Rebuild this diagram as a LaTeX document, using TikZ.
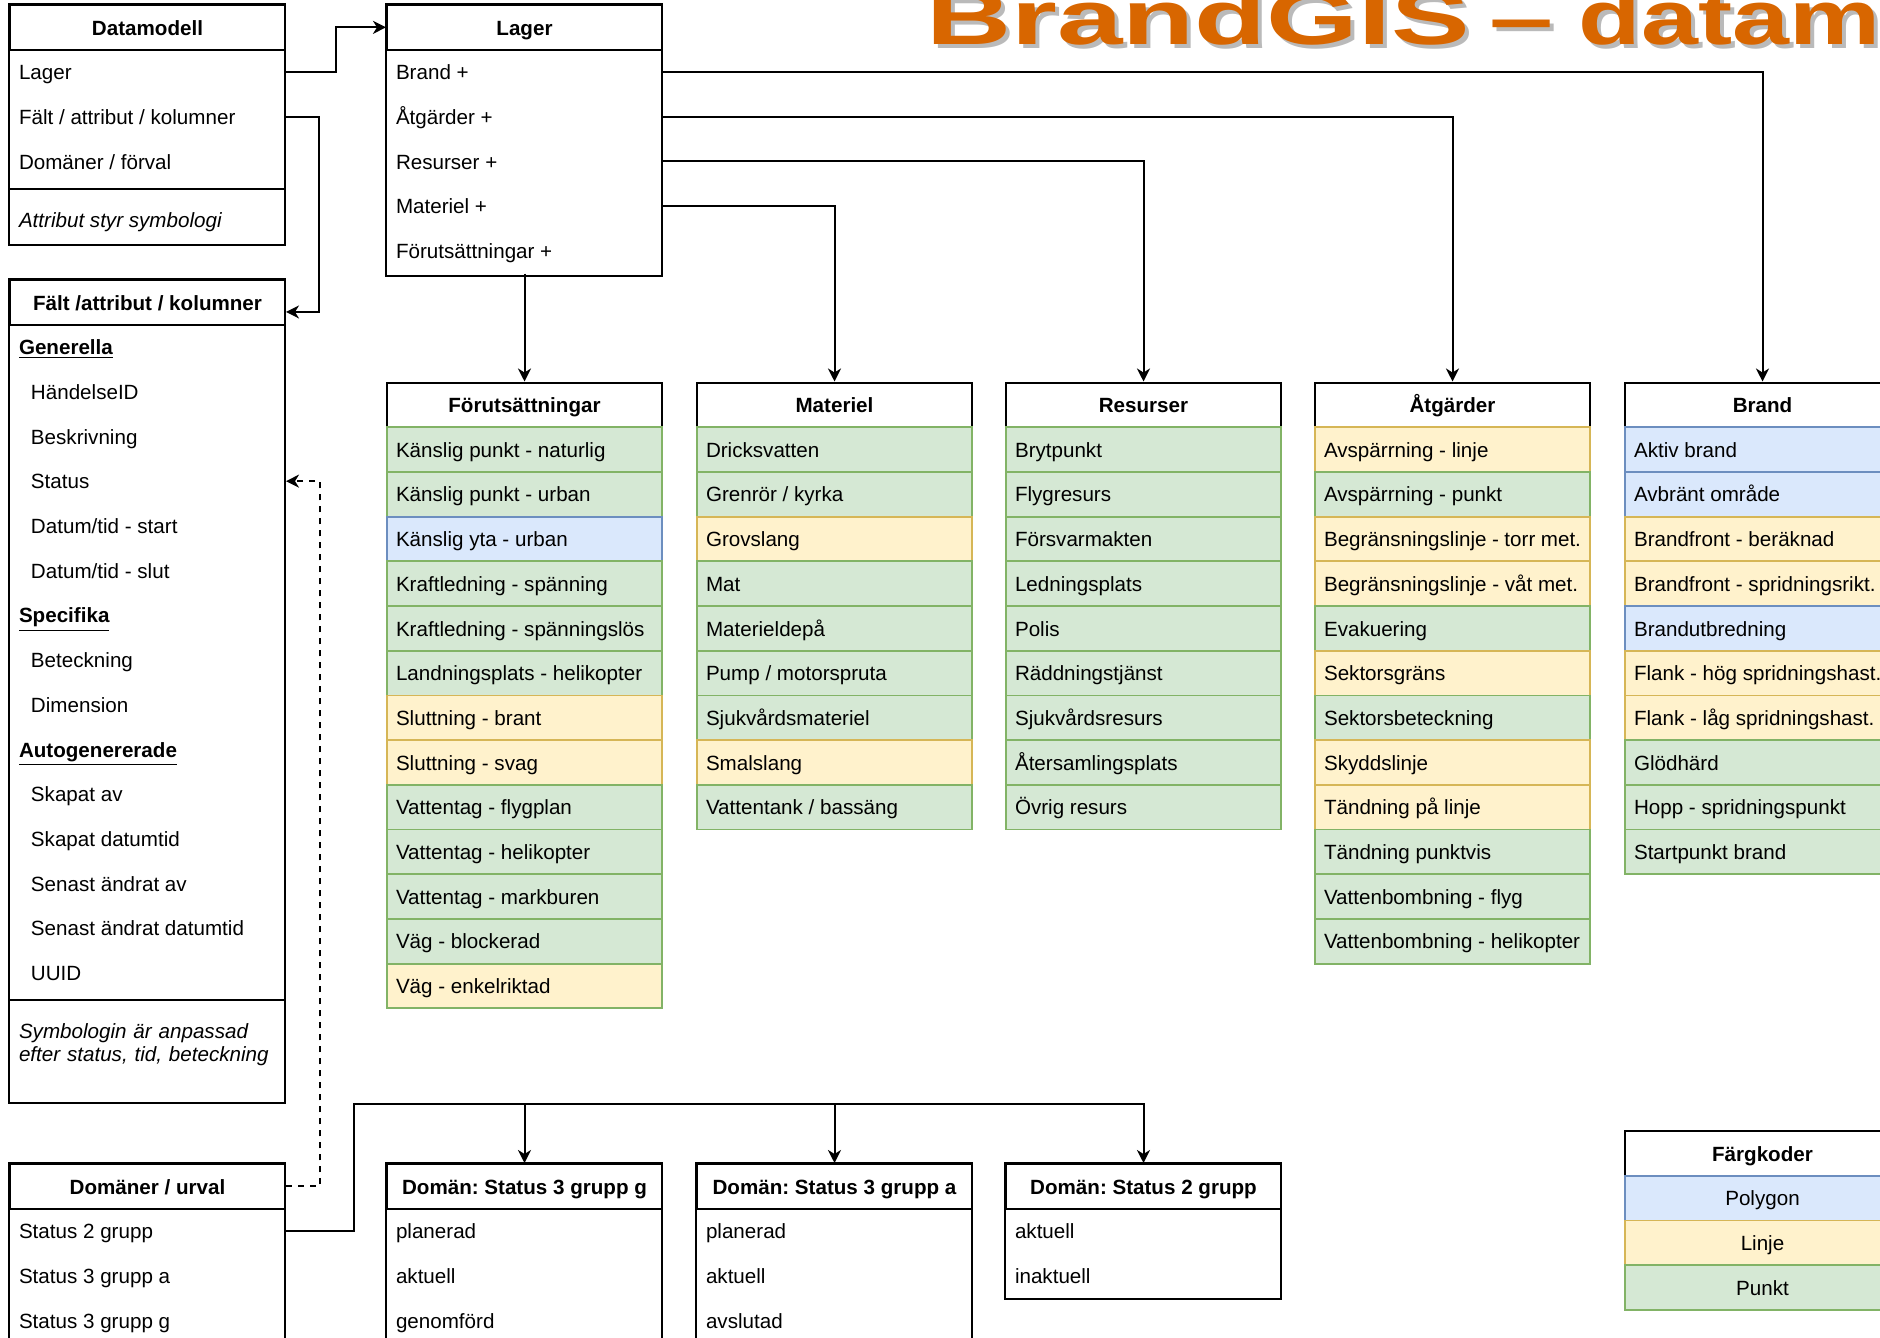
\documentclass[tikz,border=0pt]{standalone}
\usepackage{fontspec}
\setmainfont{Liberation Sans}
\usetikzlibrary{arrows.meta}
\frenchspacing

\definecolor{ytafill}{HTML}{DAE8FC}
\definecolor{ytakant}{HTML}{6C8EBF}
\definecolor{linjefill}{HTML}{FFF2CC}
\definecolor{linjekant}{HTML}{D6B656}
\definecolor{punktfill}{HTML}{D5E8D4}
\definecolor{punktkant}{HTML}{82B366}
\definecolor{rubrik}{HTML}{D86600}

\newcommand\titeltext{\scalebox{1.53}[1]{BrandGIS}\hspace{10pt}\scalebox{1.5}[1]{–}\hspace{12.5pt}\scalebox{1.33}[1]{datamodell}}

\begin{document}
\begin{tikzpicture}[x=0.5pt, y=-0.5pt, >={Stealth[length=6.5pt,width=6.5pt,inset=2pt]},
  font=\fontsize{10.3}{12.4}\selectfont,
  huvud/.style={draw, line width=1pt, fill=white, minimum width=137.5pt, minimum height=22.35pt, inner sep=0pt, text height=8.9pt, text depth=1.2pt, font=\fontsize{10.3}{12.4}\selectfont\bfseries},
  rad/.style={minimum width=137.5pt, minimum height=22.35pt, inner xsep=4.5pt, inner ysep=0pt, text height=8.9pt, text depth=1.2pt, execute at begin node={\hbox to 128.5pt\bgroup}, execute at end node={\hfil\egroup}},
  inskjut/.style={rad, xshift=6pt},
  punkt/.style={rad, draw=punktkant, fill=punktfill, line width=0.9pt},
  linje/.style={rad, draw=linjekant, fill=linjefill, line width=0.9pt},
  yta/.style={rad, draw=ytakant, fill=ytafill, line width=0.9pt},
  ruta/.style={minimum width=137.5pt, minimum height=22.35pt, inner sep=0pt, text height=8.9pt, text depth=1.2pt, line width=0.9pt},
  ram/.style={draw, line width=1pt},
  pil/.style={->, line width=1pt}]
  \useasboundingbox (0,0) rectangle (1880,1338);
  \begin{scope}
    \clip (0,0) rectangle (1880,1338);

    % Titel
    \node[anchor=base west, inner sep=0pt, text=black!45, opacity=0.6, font=\fontsize{38.5}{40}\selectfont\bfseries] (skugga) at (930,49) {\titeltext};
    \node[anchor=base west, inner sep=0pt, text=rubrik, font=\fontsize{38.5}{40}\selectfont\bfseries] (titel) at (926,45) {\titeltext};

    % Datamodell
    \node[huvud] (d0) at (147.5,27.35) {Datamodell};
    \node[rad] (d1) at (147.5,72.05) {Lager};
    \node[rad] (d2) at (147.5,116.75) {Fält / attribut / kolumner};
    \node[rad] (d3) at (147.5,161.45) {Domäner / förval};
    \node[rad, minimum height=28pt, text height=10.3pt, text depth=0pt, font=\fontsize{10.3}{12.4}\selectfont\itshape] (d4) at (147.5,217) {Attribut styr symbologi};
    \draw[ram] (d0.north west) rectangle (d4.south east);
    \draw[ram] (d4.north west) -- (d4.north east);

    % Lager
    \node[huvud] (l0) at (524.5,27.35) {Lager};
    \node[rad] (l1) at (524.5,72.05) {Brand +};
    \node[rad] (l2) at (524.5,116.75) {Åtgärder +};
    \node[rad] (l3) at (524.5,161.45) {Resurser +};
    \node[rad] (l4) at (524.5,206.15) {Materiel +};
    \node[rad] (l5) at (524.5,250.85) {Förutsättningar +};
    \draw[ram] (l0.north west) rectangle ([yshift=-1.4pt]l5.south east);

    % Falt / attribut / kolumner
    \node[huvud] (k0) at (147.5,302.35) {Fält /attribut / kolumner};
    \node[rad] (k1) at (147.5,347.05) {\textbf{\underline{Generella}}};
    \node[inskjut] (k2) at (147.5,391.75) {HändelseID};
    \node[inskjut] (k3) at (147.5,436.45) {Beskrivning};
    \node[inskjut] (k4) at (147.5,481.15) {Status};
    \node[inskjut] (k5) at (147.5,525.85) {Datum/tid - start};
    \node[inskjut] (k6) at (147.5,570.55) {Datum/tid - slut};
    \node[rad] (k7) at (147.5,615.25) {\textbf{\underline{Specifika}}};
    \node[inskjut] (k8) at (147.5,659.95) {Beteckning};
    \node[inskjut] (k9) at (147.5,704.65) {Dimension};
    \node[rad] (k10) at (147.5,749.35) {\textbf{\underline{Autogenererade}}};
    \node[inskjut] (k11) at (147.5,794.05) {Skapat av};
    \node[inskjut] (k12) at (147.5,838.75) {Skapat datumtid};
    \node[inskjut] (k13) at (147.5,883.45) {Senast ändrat av};
    \node[inskjut] (k14) at (147.5,928.15) {Senast ändrat datumtid};
    \node[inskjut] (k15) at (147.5,972.85) {UUID};
    \node[minimum width=137.5pt, minimum height=51.5pt, inner xsep=4.5pt, inner ysep=0pt, text width=128.5pt, align=left, text height=8.3pt, text depth=20.9pt, font=\fontsize{10.3}{11.5}\selectfont\itshape] (k16) at (147.5,1051.5) {Symbologin är anpassad\\efter status, tid, beteckning};
    \draw[ram] (k0.north west) rectangle (k16.south east);
    \draw[ram] (k16.north west) -- (k16.north east);

    % Domaner / urval
    \node[huvud] (u0) at (147.5,1186.35) {Domäner / urval};
    \node[rad] (u1) at (147.5,1231.05) {Status 2 grupp};
    \node[rad] (u2) at (147.5,1275.75) {Status 3 grupp a};
    \node[rad] (u3) at (147.5,1320.45) {Status 3 grupp g};
    \draw[ram] (u0.north west) rectangle (u3.south east);

    % Forutsattningar
    \node[huvud] (f0) at (524.5,404.85) {Förutsättningar};
    \node[punkt] (f1) at (524.5,449.55) {Känslig punkt - naturlig};
    \node[punkt] (f2) at (524.5,494.25) {Känslig punkt - urban};
    \node[yta] (f3) at (524.5,538.95) {Känslig yta - urban};
    \node[punkt] (f4) at (524.5,583.65) {Kraftledning - spänning};
    \node[punkt] (f5) at (524.5,628.35) {Kraftledning - spänningslös};
    \node[punkt] (f6) at (524.5,673.05) {Landningsplats - helikopter};
    \node[linje] (f7) at (524.5,717.75) {Sluttning - brant};
    \node[linje] (f8) at (524.5,762.45) {Sluttning - svag};
    \node[punkt] (f9) at (524.5,807.15) {Vattentag - flygplan};
    \node[punkt] (f10) at (524.5,851.85) {Vattentag - helikopter};
    \node[punkt] (f11) at (524.5,896.55) {Vattentag - markburen};
    \node[punkt] (f12) at (524.5,941.25) {Väg - blockerad};
    \node[linje, draw=punktkant] (f13) at (524.5,985.95) {Väg - enkelriktad};

    % Materiel
    \node[huvud] (m0) at (834.5,404.85) {Materiel};
    \node[punkt] (m1) at (834.5,449.55) {Dricksvatten};
    \node[punkt] (m2) at (834.5,494.25) {Grenrör / kyrka};
    \node[linje] (m3) at (834.5,538.95) {Grovslang};
    \node[punkt] (m4) at (834.5,583.65) {Mat};
    \node[punkt] (m5) at (834.5,628.35) {Materieldepå};
    \node[punkt] (m6) at (834.5,673.05) {Pump / motorspruta};
    \node[punkt] (m7) at (834.5,717.75) {Sjukvårdsmateriel};
    \node[linje] (m8) at (834.5,762.45) {Smalslang};
    \node[punkt] (m9) at (834.5,807.15) {Vattentank / bassäng};

    % Resurser
    \node[huvud] (r0) at (1143.5,404.85) {Resurser};
    \node[punkt] (r1) at (1143.5,449.55) {Brytpunkt};
    \node[punkt] (r2) at (1143.5,494.25) {Flygresurs};
    \node[punkt] (r3) at (1143.5,538.95) {Försvarmakten};
    \node[punkt] (r4) at (1143.5,583.65) {Ledningsplats};
    \node[punkt] (r5) at (1143.5,628.35) {Polis};
    \node[punkt] (r6) at (1143.5,673.05) {Räddningstjänst};
    \node[punkt] (r7) at (1143.5,717.75) {Sjukvårdsresurs};
    \node[punkt] (r8) at (1143.5,762.45) {Återsamlingsplats};
    \node[punkt] (r9) at (1143.5,807.15) {Övrig resurs};

    % Atgarder
    \node[huvud] (a0) at (1452.5,404.85) {Åtgärder};
    \node[linje] (a1) at (1452.5,449.55) {Avspärrning - linje};
    \node[punkt] (a2) at (1452.5,494.25) {Avspärrning - punkt};
    \node[linje] (a3) at (1452.5,538.95) {Begränsningslinje - torr met.};
    \node[linje] (a4) at (1452.5,583.65) {Begränsningslinje - våt met.};
    \node[punkt] (a5) at (1452.5,628.35) {Evakuering};
    \node[linje] (a6) at (1452.5,673.05) {Sektorsgräns};
    \node[punkt] (a7) at (1452.5,717.75) {Sektorsbeteckning};
    \node[linje] (a8) at (1452.5,762.45) {Skyddslinje};
    \node[linje] (a9) at (1452.5,807.15) {Tändning på linje};
    \node[punkt] (a10) at (1452.5,851.85) {Tändning punktvis};
    \node[punkt] (a11) at (1452.5,896.55) {Vattenbombning - flyg};
    \node[punkt] (a12) at (1452.5,941.25) {Vattenbombning - helikopter};

    % Brand
    \node[huvud] (b0) at (1762.5,404.85) {Brand};
    \node[yta] (b1) at (1762.5,449.55) {Aktiv brand};
    \node[yta] (b2) at (1762.5,494.25) {Avbränt område};
    \node[linje] (b3) at (1762.5,538.95) {Brandfront - beräknad};
    \node[linje] (b4) at (1762.5,583.65) {Brandfront - spridningsrikt.};
    \node[yta] (b5) at (1762.5,628.35) {Brandutbredning};
    \node[linje] (b6) at (1762.5,673.05) {Flank - hög spridningshast.};
    \node[linje] (b7) at (1762.5,717.75) {Flank - låg spridningshast.};
    \node[punkt] (b8) at (1762.5,762.45) {Glödhärd};
    \node[punkt] (b9) at (1762.5,807.15) {Hopp - spridningspunkt};
    \node[punkt] (b10) at (1762.5,851.85) {Startpunkt brand};

    % Domaner
    \node[huvud] (p0) at (524.5,1186.35) {Domän: Status 3 grupp g};
    \node[rad] (p1) at (524.5,1231.05) {planerad};
    \node[rad] (p2) at (524.5,1275.75) {aktuell};
    \node[rad] (p3) at (524.5,1320.45) {genomförd};
    \draw[ram] (p0.north west) rectangle (p3.south east);

    \node[huvud] (q0) at (834.5,1186.35) {Domän: Status 3 grupp a};
    \node[rad] (q1) at (834.5,1231.05) {planerad};
    \node[rad] (q2) at (834.5,1275.75) {aktuell};
    \node[rad] (q3) at (834.5,1320.45) {avslutad};
    \draw[ram] (q0.north west) rectangle (q3.south east);

    \node[huvud] (s0) at (1143.5,1186.35) {Domän: Status 2 grupp};
    \node[rad] (s1) at (1143.5,1231.05) {aktuell};
    \node[rad] (s2) at (1143.5,1275.75) {inaktuell};
    \draw[ram] (s0.north west) rectangle (s2.south east);

    % Fargkoder
    \node[huvud] (c0) at (1762.5,1153.35) {Färgkoder};
    \node[ruta, draw=ytakant, fill=ytafill] (c1) at (1762.5,1198.05) {Polygon};
    \node[ruta, draw=linjekant, fill=linjefill] (c2) at (1762.5,1242.75) {Linje};
    \node[ruta, draw=punktkant, fill=punktfill] (c3) at (1762.5,1287.45) {Punkt};

    % Pilar
    \draw[pil] (d1.east) -- ++(51,0) |- (l0.west);
    \draw[pil] (d2.east) -- ++(34,0) |- ([yshift=-4.8pt]k0.east);
    \draw[pil, dashed] (u0.east) -- ++(34,0) |- (k4.east -| k0.east);

    \draw[pil] (l5.south) -- (f0.north);
    \draw[pil] (l4.east) -| (m0.north);
    \draw[pil] (l3.east) -| (r0.north);
    \draw[pil] (l2.east) -| (a0.north);
    \draw[pil] (l1.east) -| (b0.north);

    \coordinate (buss) at (354,1104);
    \draw[pil] (u1.east) -| (buss) -| (s0.north);
    \draw[pil] (p0.north |- buss) -- (p0.north);
    \draw[pil] (q0.north |- buss) -- (q0.north);
  \end{scope}
\end{tikzpicture}
\end{document}
